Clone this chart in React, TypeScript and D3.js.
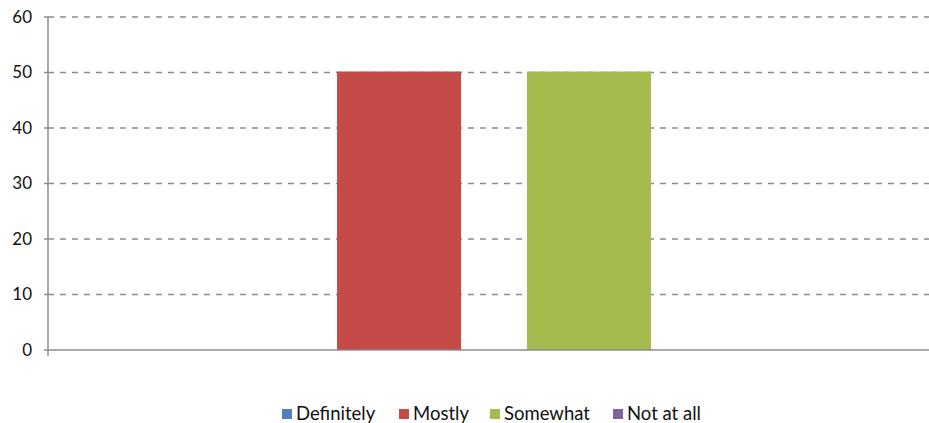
import * as d3 from 'd3';

const categories = [''];
const seriesNames = ['Definitely', 'Mostly', 'Somewhat', 'Not at all'];
const seriesColors = ['#4F81BD', '#C54B48', '#A6BB4D', '#8064A2'];
const seriesValues = [0, 50, 50, 0];
const yTicks = [0, 10, 20, 30, 40, 50, 60];

const width = 929;
const height = 423;
const margin = { left: 48, right: -11, top: 17, bottom: 73 };
const font = 'Lato, "Open Sans", sans-serif';

export default function App() {
  const x0 = d3.scaleBand<string>()
    .domain(categories)
    .range([margin.left, width - margin.right])
    .paddingInner(0)
    .paddingOuter(0.1427);

  const x1 = d3.scaleBand<string>()
    .domain(seriesNames)
    .range([0, x0.bandwidth()])
    .paddingInner(0.347)
    .paddingOuter(0);

  const y = d3.scaleLinear()
    .domain([0, 60])
    .range([height - margin.bottom, margin.top]);

  const legendX = [282, 399, 490, 613];

  return (
    <svg width={width} height={height} style={{ position: 'absolute', left: 0, top: 0, background: '#fff' }}>
      {yTicks.filter(t => t > 0).map(t => (
        <line key={'g' + t} x1={margin.left} x2={width} y1={y(t)} y2={y(t)}
          stroke="#8c8c8c" strokeWidth={1.5} strokeDasharray="6,6" />
      ))}
      {categories.map(c => seriesNames.map((s, i) => (
        seriesValues[i] > 0 ? (
          <rect key={c + s} x={(x0(c) ?? 0) + (x1(s) ?? 0)} width={x1.bandwidth()}
            y={y(seriesValues[i]) - 1} height={y(0) - y(seriesValues[i]) + 1} fill={seriesColors[i]} />
        ) : null
      )))}
      <line x1={margin.left} x2={margin.left} y1={y(60)} y2={y(0) + 6} stroke="#8c8c8c" strokeWidth={1.5} />
      <line x1={margin.left} x2={width} y1={y(0)} y2={y(0)} stroke="#8c8c8c" strokeWidth={1.5} />
      {yTicks.map(t => (
        <g key={'t' + t}>
          <line x1={margin.left - 4} x2={margin.left} y1={y(t)} y2={y(t)} stroke="#8c8c8c" strokeWidth={1.5} />
          <text x={32} y={y(t)} dy="0.35em" textAnchor="end" fontFamily={font} fontSize={17} fill="#111">{t}</text>
        </g>
      ))}
      {seriesNames.map((s, i) => (
        <g key={'l' + s}>
          <rect x={legendX[i]} y={409} width={10} height={10} fill={seriesColors[i]} />
          <text x={legendX[i] + 14} y={414} dy="0.35em" fontFamily={font} fontSize={18.5} fill="#111">{s}</text>
        </g>
      ))}
    </svg>
  );
}
